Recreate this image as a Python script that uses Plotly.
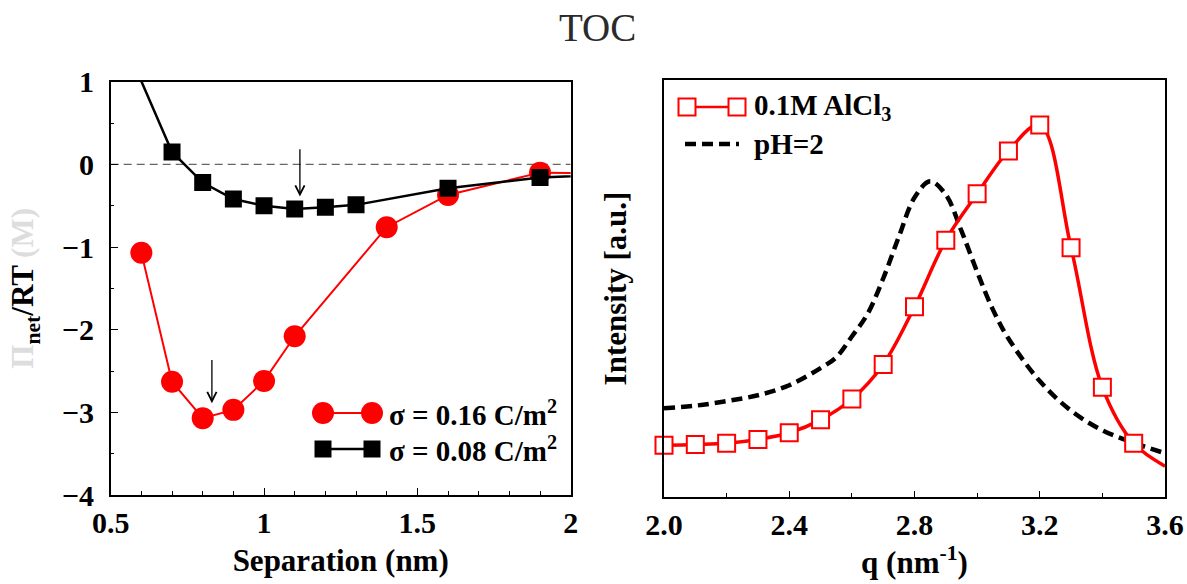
import plotly.graph_objects as go

W, H = 1187, 584

# ---- left panel: net disjoining pressure vs separation ----
sep_hi = [0.6, 0.7, 0.8, 0.9, 1.0, 1.1, 1.4, 1.6, 1.9, 2.2]
pi_hi = [-1.07, -2.63, -3.07, -2.97, -2.62, -2.08, -0.76, -0.37, -0.10, -0.11]

sep_lo = [0.5, 0.7, 0.8, 0.9, 1.0, 1.1, 1.2, 1.3, 1.6, 1.9, 2.2]
pi_lo = [1.86, 0.15, -0.22, -0.42, -0.50, -0.54, -0.52, -0.49, -0.29, -0.16, -0.11]

# arrows pointing at the minima
arrow_x = [0.83, 1.117]
arrow_tail = [-2.35, 0.20]
arrow_tip = [-2.89, -0.39]

legend_left = ["σ = 0.16 C/m<sup>2</sup>", "σ = 0.08 C/m<sup>2</sup>"]

# ---- right panel: scattering intensity vs q ----
q_alcl3 = [2.0, 2.1, 2.2, 2.3, 2.4, 2.5, 2.6, 2.7, 2.8, 2.9, 3.0, 3.1, 3.2, 3.3, 3.4, 3.5, 3.6]
i_alcl3 = [0.124, 0.126, 0.129, 0.138, 0.154, 0.185, 0.235, 0.318, 0.456, 0.616,
           0.727, 0.830, 0.892, 0.598, 0.263, 0.129, 0.074]
n_marked = 16  # squares drawn on the first 16 samples

q_ph2 = [2.0, 2.1, 2.2, 2.3, 2.4, 2.5, 2.55, 2.6, 2.65, 2.7, 2.75, 2.8, 2.85, 2.9,
         2.95, 3.0, 3.05, 3.1, 3.2, 3.3, 3.4, 3.5, 3.6]
i_ph2 = [0.213, 0.219, 0.230, 0.244, 0.268, 0.309, 0.335, 0.385, 0.439, 0.524, 0.624,
         0.718, 0.757, 0.725, 0.638, 0.540, 0.450, 0.380, 0.278, 0.207, 0.160, 0.130,
         0.105]

legend_right = ["0.1M AlCl<sub>3</sub>", "pH=2"]

SERIF = "Liberation Serif"
RED = "#ff0000"


def px(x):
    return x / W


def py(y):
    return 1 - y / H


fig = go.Figure()

fig.add_trace(go.Scatter(
    x=sep_hi, y=pi_hi, mode="lines+markers", showlegend=False,
    line=dict(color=RED, width=2),
    marker=dict(symbol="circle", size=22, color=RED),
    xaxis="x", yaxis="y"))
fig.add_trace(go.Scatter(
    x=sep_lo, y=pi_lo, mode="lines+markers", showlegend=False,
    line=dict(color="black", width=2.5),
    marker=dict(symbol="square", size=17, color="black"),
    xaxis="x", yaxis="y"))

fig.add_trace(go.Scatter(
    x=q_ph2, y=i_ph2, mode="lines", showlegend=False,
    line=dict(color="black", width=4.5, dash="11px,6px", shape="spline", smoothing=1),
    xaxis="x2", yaxis="y2"))
fig.add_trace(go.Scatter(
    x=q_alcl3, y=i_alcl3, mode="lines", showlegend=False,
    line=dict(color=RED, width=3.5, shape="spline", smoothing=1),
    xaxis="x2", yaxis="y2"))
fig.add_trace(go.Scatter(
    x=q_alcl3[:n_marked], y=i_alcl3[:n_marked], mode="markers", showlegend=False,
    marker=dict(symbol="square", size=17, color="white", line=dict(color=RED, width=2)),
    cliponaxis=False, xaxis="x2", yaxis="y2"))

shapes = [
    # zero reference line
    dict(type="line", xref="x", yref="y", x0=0.5, x1=2.0, y0=0, y1=0,
         line=dict(color="#666666", width=1.2, dash="8px,5px"), layer="below"),
]

# legend keys, left panel
lx0, lx1 = 323, 372
for yy, kind in [(413, "circle"), (449, "square")]:
    col = RED if kind == "circle" else "black"
    shapes.append(dict(type="line", xref="paper", yref="paper",
                       x0=px(lx0), x1=px(lx1), y0=py(yy), y1=py(yy),
                       line=dict(color=col, width=2 if kind == "circle" else 2.5)))
    half = 11 if kind == "circle" else 8.5
    for cx in (lx0, lx1):
        shapes.append(dict(type="circle" if kind == "circle" else "rect",
                           xref="paper", yref="paper",
                           xsizemode="pixel", ysizemode="pixel",
                           xanchor=px(cx), yanchor=py(yy),
                           x0=-half, x1=half, y0=-half, y1=half,
                           fillcolor=col, line=dict(width=0)))

# legend keys, right panel
rx0, rx1 = 687, 737
shapes.append(dict(type="line", xref="paper", yref="paper",
                   x0=px(rx0), x1=px(rx1), y0=py(107), y1=py(107),
                   line=dict(color=RED, width=2.5)))
for cx in (rx0, rx1):
    shapes.append(dict(type="rect", xref="paper", yref="paper",
                       xsizemode="pixel", ysizemode="pixel",
                       xanchor=px(cx), yanchor=py(107),
                       x0=-8.5, x1=8.5, y0=-8.5, y1=8.5,
                       fillcolor="white", line=dict(color=RED, width=2)))
shapes.append(dict(type="line", xref="paper", yref="paper",
                   x0=px(685), x1=px(739), y0=py(144), y1=py(144),
                   line=dict(color="black", width=4.5, dash="11px,6px")))

annotations = [
    dict(text="TOC", xref="paper", yref="paper", x=px(598), y=py(27),
         showarrow=False, xanchor="center", yanchor="middle",
         font=dict(family=SERIF, size=39, color="#2a2a2a")),
]
for xa, yt, yh in zip(arrow_x, arrow_tail, arrow_tip):
    annotations.append(dict(x=xa, y=yh, ax=xa, ay=yt, xref="x", yref="y",
                            axref="x", ayref="y", text="", showarrow=True,
                            arrowhead=5, arrowsize=1.4, arrowwidth=1.3,
                            arrowcolor="black"))

legend_font = dict(family=SERIF, size=29, color="black", weight="bold")
for txt, yy in zip(legend_left, (413, 449)):
    annotations.append(dict(text=txt, xref="paper", yref="paper", x=px(387), y=py(yy),
                            showarrow=False, xanchor="left", yanchor="middle",
                            font=legend_font))
for txt, yy in zip(legend_right, (107, 144)):
    annotations.append(dict(text=txt, xref="paper", yref="paper", x=px(752), y=py(yy),
                            showarrow=False, xanchor="left", yanchor="middle",
                            font=legend_font))

tick_font = dict(family=SERIF, size=30, color="black", weight="bold")
title_font = dict(family=SERIF, size=31, color="black", weight="bold")
frame = dict(showline=True, mirror=True, linecolor="black", linewidth=1.5,
             showgrid=False, zeroline=False, automargin=False)

fig.update_layout(
    width=W, height=H, autosize=False,
    margin=dict(l=0, r=0, t=0, b=0, autoexpand=False),
    paper_bgcolor="white", plot_bgcolor="white",
    shapes=shapes, annotations=annotations,
    xaxis=dict(domain=[px(110.7), px(570.7)], range=[0.5, 2.0], anchor="y",
               tick0=0.5, dtick=0.5, ticks="inside", ticklen=7, tickwidth=1.3,
               tickcolor="black", ticklabelstandoff=0,
               minor=dict(ticks="inside", dtick=0.1, ticklen=4, tickwidth=1.1,
                          tickcolor="black"),
               tickfont=tick_font,
               title=dict(text="Separation (nm)", font=title_font, standoff=12),
               **frame),
    yaxis=dict(domain=[py(495), py(81.7)], range=[-4, 1], anchor="x",
               dtick=1, ticks="inside", ticklen=8, tickwidth=1.3, tickcolor="black",
               ticklabelstandoff=9,
               minor=dict(ticks="inside", dtick=0.5, ticklen=4, tickwidth=1.1,
                          tickcolor="black"),
               tickfont=tick_font,
               title=dict(text='<span style="color:#dddddd">Π</span><sub>net</sub>/RT '
                               '<span style="color:#dddddd">(M)</span>',
                          font=title_font, standoff=19),
               **frame),
    xaxis2=dict(domain=[px(664), px(1165)], range=[2.0, 3.6], anchor="y2",
                tick0=2.0, dtick=0.4, tickformat=".1f", ticks="inside", ticklen=6,
                tickwidth=1.3, tickcolor="black", ticklabelstandoff=0,
                minor=dict(ticks="inside", dtick=0.2, ticklen=4, tickwidth=1.1,
                           tickcolor="black"),
                tickfont=tick_font,
                title=dict(text="q (nm<sup>-1</sup>)", font=title_font, standoff=12),
                **frame),
    yaxis2=dict(domain=[py(497), py(80)], range=[0, 1], anchor="x2",
                showticklabels=False, ticks="",
                title=dict(text="Intensity [a.u.]", font=title_font, standoff=26),
                **frame),
)

fig.write_html("out.html")
